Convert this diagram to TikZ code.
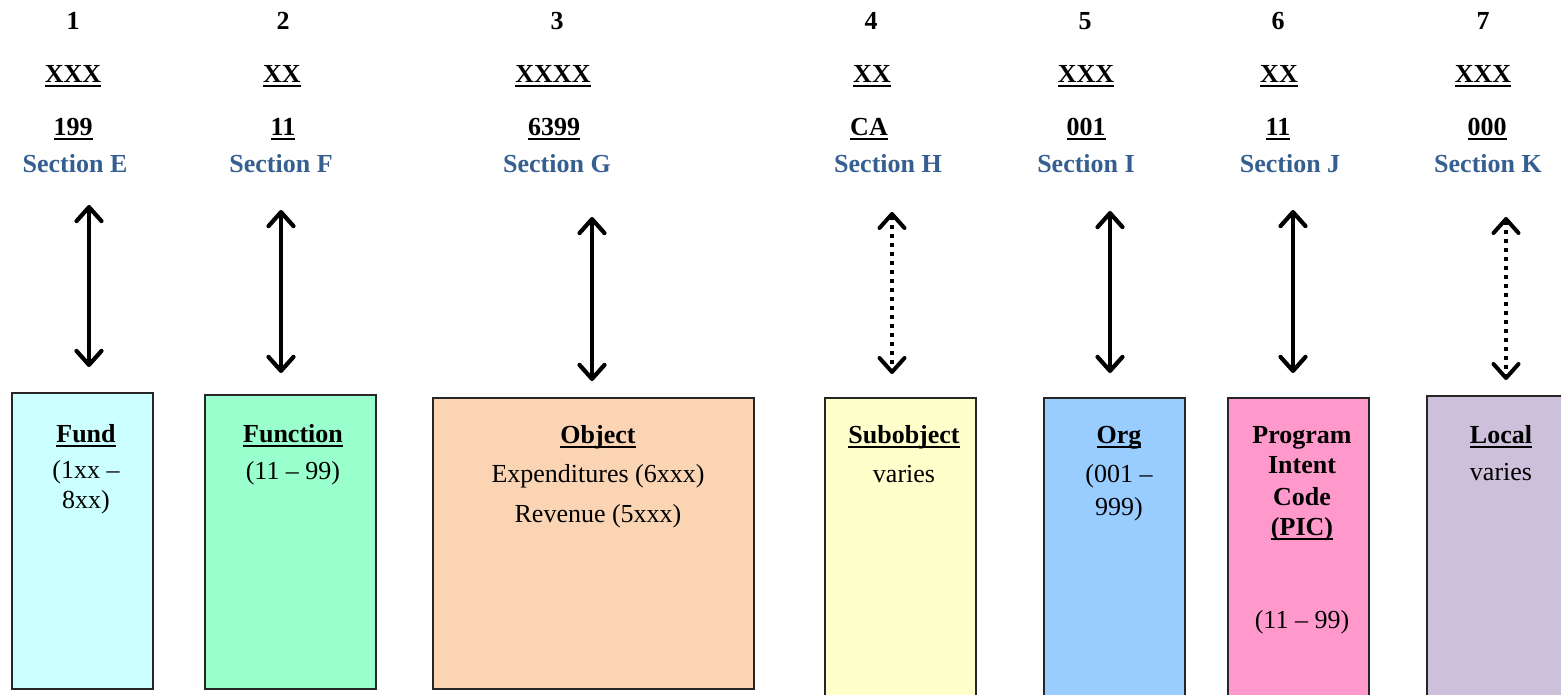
\documentclass[tikz,border=0pt]{standalone}
\usepackage{fontspec}
\setmainfont{Liberation Serif}
\usetikzlibrary{arrows.meta}

\definecolor{secblue}{HTML}{365F91}
\definecolor{edge}{HTML}{262626}
\definecolor{fundc}{HTML}{CCFFFF}
\definecolor{funcc}{HTML}{99FFCC}
\definecolor{objc}{HTML}{FBD4B4}
\definecolor{subc}{HTML}{FFFFCC}
\definecolor{orgc}{HTML}{99CCFF}
\definecolor{picc}{HTML}{FF99CC}
\definecolor{locc}{HTML}{CCC0DA}

% underline that ignores descenders
\newcommand\ulbox[1]{{\setbox0\hbox{#1}\dp0=0pt\vtop{\box0\kern2.6pt\hrule height 2.6pt}}}

\tikzset{
  txt/.style={inner sep=0pt, anchor=base, font=\fontsize{26}{30}\selectfont},
  hd/.style={txt, font=\fontsize{26}{30}\selectfont\bfseries},
  sec/.style={hd, text=secblue},
  codebox/.style={draw=edge, line width=2pt, inner sep=0pt},
  barb/.tip={Straight Barb[length=14pt,width=25pt,round]},
  link/.style={line width=4.2pt, barb-barb},
  maybe/.style={line width=4pt, dash pattern=on 4pt off 5pt, barb-barb},
}

\begin{document}
\begin{tikzpicture}[x=1pt,y=-1pt]
\useasboundingbox (0,0) rectangle (1561,694);
\clip (0,0) rectangle (1561,694);

% ---- code boxes ----
\node[codebox, fill=fundc, minimum width=141pt, minimum height=296pt] (fund) at (82.5,541) {};
\node[codebox, fill=funcc, minimum width=171pt, minimum height=294pt] (func) at (290.5,542) {};
\node[codebox, fill=objc,  minimum width=321pt, minimum height=291pt] (obj)  at (593.5,543.5) {};
\node[codebox, fill=subc,  minimum width=151pt, minimum height=320pt] (sub)  at (900.5,558) {};
\node[codebox, fill=orgc,  minimum width=141pt, minimum height=320pt] (org)  at (1114.5,558) {};
\node[codebox, fill=picc,  minimum width=141pt, minimum height=320pt] (pic)  at (1298.5,558) {};
\node[codebox, fill=locc,  minimum width=160pt, minimum height=320pt] (loc)  at (1507,556) {};

% ---- box texts ----
\node[hd]  (fundT)  at (86,442) {\ulbox{Fund}};
\node[txt] (fundA)  at (86,478) {(1xx –};
\node[txt] (fundB)  at (86,508) {8xx)};

\node[hd]  (funcT)  at (293,442) {\ulbox{Function}};
\node[txt] (funcA)  at (293,479) {(11 – 99)};

\node[hd]  (objT)   at (598,443) {\ulbox{Object}};
\node[txt] (objA)   at (598,482) {Expenditures (6xxx)};
\node[txt] (objB)   at (598,522) {Revenue (5xxx)};

\node[hd]  (subT)   at (904,443) {\ulbox{Subobject}};
\node[txt] (subA)   at (904,482) {varies};

\node[hd]  (orgT)   at (1119,443) {\ulbox{Org}};
\node[txt] (orgA)   at (1119,482) {(001 –};
\node[txt] (orgB)   at (1119,515) {999)};

\node[hd]  (picT1)  at (1302,443) {Program};
\node[hd]  (picT2)  at (1302,473) {Intent};
\node[hd]  (picT3)  at (1302,505) {Code};
\node[hd]  (picT4)  at (1302,535) {\ulbox{(PIC)}};
\node[txt] (picA)   at (1302,628) {(11 – 99)};

\node[hd]  (locT)   at (1501,443) {\ulbox{Local}};
\node[txt] (locA)   at (1501,480) {varies};

% ---- column headings ----
\node[hd]  (n1) at (73,29)  {1};
\node[hd]  (c1) at (73,82)  {\ulbox{XXX}};
\node[hd]  (v1) at (73,135) {\ulbox{199}};
\node[sec] (s1) at (75,172) {Section E};

\node[hd]  (n2) at (283,29)  {2};
\node[hd]  (c2) at (282,82)  {\ulbox{XX}};
\node[hd]  (v2) at (283,135) {\ulbox{11}};
\node[sec] (s2) at (281,172) {Section F};

\node[hd]  (n3) at (557,29)  {3};
\node[hd]  (c3) at (553,82)  {\ulbox{XXXX}};
\node[hd]  (v3) at (554,135) {\ulbox{6399}};
\node[sec] (s3) at (557,172) {Section G};

\node[hd]  (n4) at (871,29)  {4};
\node[hd]  (c4) at (872,82)  {\ulbox{XX}};
\node[hd]  (v4) at (869,135) {\ulbox{CA}};
\node[sec] (s4) at (888,172) {Section H};

\node[hd]  (n5) at (1085,29)  {5};
\node[hd]  (c5) at (1086,82)  {\ulbox{XXX}};
\node[hd]  (v5) at (1086,135) {\ulbox{001}};
\node[sec] (s5) at (1086,172) {Section I};

\node[hd]  (n6) at (1278,29)  {6};
\node[hd]  (c6) at (1279,82)  {\ulbox{XX}};
\node[hd]  (v6) at (1278,135) {\ulbox{11}};
\node[sec] (s6) at (1290,172) {Section J};

\node[hd]  (n7) at (1483,29)  {7};
\node[hd]  (c7) at (1483,82)  {\ulbox{XXX}};
\node[hd]  (v7) at (1487,135) {\ulbox{000}};
\node[sec] (s7) at (1488,172) {Section K};

% ---- arrow end points ----
\coordinate (t1) at (89,205);   \coordinate (b1) at (89,367);
\coordinate (t2) at (281,210);  \coordinate (b2) at (281,373);
\coordinate (t3) at (592,217);  \coordinate (b3) at (592,381);
\coordinate (t4) at (892,212);  \coordinate (b4) at (892,374);
\coordinate (t5) at (1110,211); \coordinate (b5) at (1110,373);
\coordinate (t6) at (1293,210); \coordinate (b6) at (1293,373);
\coordinate (t7) at (1506,217); \coordinate (b7) at (1506,380);

\draw[link]  (t1) -- (b1);
\draw[link]  (t2) -- (b2);
\draw[link]  (t3) -- (b3);
\draw[maybe] (t4) -- (b4);
\draw[link]  (t5) -- (b5);
\draw[link]  (t6) -- (b6);
\draw[maybe] (t7) -- (b7);
\end{tikzpicture}
\end{document}
